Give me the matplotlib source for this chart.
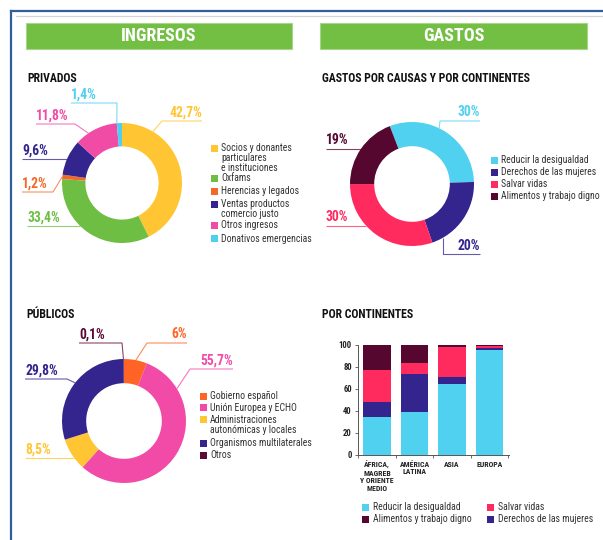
import numpy as np
import matplotlib
matplotlib.use('Agg')
import matplotlib.pyplot as plt
from matplotlib.patches import Rectangle

# Fonts: narrow faces for the condensed look of the original
COND = ['Roboto Condensed', 'Liberation Sans Narrow', 'Roboto', 'DejaVu Sans']
plt.rcParams['font.family'] = COND

# ---- data ----
priv_labels = ['Socios y donantes\nparticulares\ne instituciones', 'Oxfams', 'Herencias y legados',
               'Ventas productos\ncomercio justo', 'Otros ingresos', 'Donativos emergencias']
priv_values = [42.7, 33.4, 1.2, 9.6, 11.8, 1.4]
priv_colors = ['#FFC533', '#6EBE44', '#F26A2A', '#33248E', '#F04BA5', '#4FCFEF']

pub_labels = ['Gobierno español', 'Unión Europea y ECHO', 'Administraciones\nautonómicas y locales',
              'Organismos multilaterales', 'Otros']
pub_values = [6, 55.7, 8.5, 29.8, 0.1]
pub_colors = ['#FF6326', '#F24BA7', '#FFC533', '#33248E', '#5C0B35']

causes = ['Reducir la desigualdad', 'Derechos de las mujeres', 'Salvar vidas', 'Alimentos y trabajo digno']
cause_values = [30, 20, 30, 19]
cause_colors = ['#4FD1EF', '#33248E', '#FF2B5E', '#56072F']

continents = ['ÁFRICA,\nMAGREB\nY ORIENTE\nMEDIO', 'AMÉRICA\nLATINA', 'ASIA', 'EUROPA']
cont_reducir = [35, 39, 65, 95.5]
cont_derechos = [13, 35, 6, 1.5]
cont_salvar = [29, 10, 27.5, 1.8]
cont_alimentos = [23, 16, 1.5, 1.2]

W, H = 603, 540
fig = plt.figure(figsize=(W / 100, H / 100), dpi=100)
ax = fig.add_axes([0, 0, 1, 1])


def Y(y):
    # pixel rows counted from the top
    return H - y


def pct(v):
    return f'{v:g}'.replace('.', ',') + '%'


def donut(cx, cy, R, values, colors, start, callouts):
    ax.pie(values, colors=colors, startangle=start, counterclock=False, radius=R,
           center=(cx, Y(cy)), wedgeprops=dict(width=R * 0.39, linewidth=0))
    for v, c, (ang, elbow, x_end) in zip(values, colors, callouts):
        a = np.deg2rad(ang)
        x0, y0 = cx + R * np.cos(a), cy - R * np.sin(a)
        if elbow is None:
            elbow = (x0, y0)
        ex, ey = elbow
        ax.plot([x0, ex, x_end], [Y(y0), Y(ey), Y(ey)], color=c, lw=0.8, alpha=0.75,
                solid_capstyle='butt')
        ha = 'right' if x_end > ex else 'left'
        ax.text(x_end, Y(ey) + 1.5, pct(v), ha=ha, va='bottom', color=c,
                fontsize=9.8, fontweight='bold')


def legend(x, y, labels, colors, step, gap, size=7):
    for lab, c in zip(labels, colors):
        ax.add_patch(Rectangle((x, Y(y) - 3.5), 7, 7, color=c, lw=0))
        ax.text(x + 10, Y(y) + 5, lab, ha='left', va='top', fontsize=size,
                color='#333333', linespacing=1.0)
        y += lab.count('\n') * step + step + gap


# frame
ax.plot([10.5, 10.5], [Y(10.5), 0], color='#2F5E9E', lw=1.6)
ax.plot([10.5, W], [Y(10.5), Y(10.5)], color='#2F5E9E', lw=1.6)
ax.plot([16, W], [Y(15.5), Y(15.5)], color='#D3D3D3', lw=0.9)

# green headers
for x0, x1, title in [(26, 292, 'INGRESOS'), (320, 587, 'GASTOS')]:
    ax.add_patch(Rectangle((x0, Y(49)), x1 - x0, 26, facecolor='#72BF44',
                           edgecolor='#A5D68A', lw=0.8))
    ax.text((x0 + x1) / 2, Y(36), title, ha='center', va='center', color='white',
            fontsize=13, fontweight='bold')

# section titles
for x, y, t in [(27, 78, 'PRIVADOS'), (322, 78, 'GASTOS POR CAUSAS Y POR CONTINENTES'),
                (26, 315, 'PÚBLICOS'), (322, 315, 'POR CONTINENTES')]:
    ax.text(x, Y(y), t, ha='left', va='center', fontsize=8.5, fontweight='bold', color='#111111')

# donuts: (anchor angle, elbow, end of leader line)
donut(122, 183, 60, priv_values, priv_colors, 90,
      [(59, (162, 121), 202), (225.8, None, 27), (174, (53, 192), 22),
       (156, None, 22), (124, (75, 124), 36), (95, (117, 103), 71)])
legend(211, 148, priv_labels, priv_colors, 8.5, 4.5)

donut(412, 184, 62, cause_values, cause_colors, 111,
      [(64, (440, 121), 480), (-60, (443, 254), 480), (222.6, None, 326), (145.6, None, 326)])
legend(491, 160, causes, cause_colors, 12, 0)

donut(124, 421, 62, pub_values, pub_colors, 90,
      [(79, (147, 343), 187), (31.4, (190, 369), 233), (216.7, None, 25),
       (142, (67, 379), 25), (90.5, (122, 343), 79)])
legend(200, 396, pub_labels, pub_colors, 11.8, 0)

ax.set_xlim(0, W)
ax.set_ylim(0, H)
ax.set_aspect('auto')
ax.axis('off')

# stacked bars by continent
bx = fig.add_axes([358 / W, (H - 455) / H, (509 - 358) / W, 110 / H])
xs = np.arange(len(continents))
bottom = np.zeros(len(continents))
for vals, c in zip([cont_reducir, cont_derechos, cont_salvar, cont_alimentos], cause_colors):
    bx.bar(xs, vals, bottom=bottom, width=0.74, color=c, lw=0)
    bottom += np.array(vals)
bx.set_xlim(-0.51, 3.52)
bx.set_ylim(0, 100)
bx.set_yticks(range(0, 101, 20))
bx.set_yticklabels([str(v) for v in range(0, 101, 20)], fontsize=6.2, fontweight='bold', color='#222222')
bx.set_xticks(xs)
bx.set_xticklabels(continents, fontsize=5.6, fontweight='bold', color='#222222', linespacing=1.15)
bx.set_xticks([-0.5, 0.5, 1.5, 2.5, 3.5], minor=True)
bx.tick_params(axis='x', which='major', length=0, pad=4)
bx.tick_params(axis='x', which='minor', length=2.5, color='#555555', width=0.6)
bx.tick_params(axis='y', length=2.5, color='#555555', width=0.6, pad=2)
for s in ['top', 'right']:
    bx.spines[s].set_visible(False)
for s in ['left', 'bottom']:
    bx.spines[s].set_color('#555555')
    bx.spines[s].set_linewidth(0.7)

# bar legend, two columns
leg_order = [0, 2, 3, 1]
leg_pos = [(362, 507), (487, 507), (362, 519), (487, 519)]
for i, (lx, ly) in zip(leg_order, leg_pos):
    ax.add_patch(Rectangle((lx, Y(ly) - 3.5), 7, 7, color=cause_colors[i], lw=0))
    ax.text(lx + 11, Y(ly), causes[i], ha='left', va='center', fontsize=7, color='#333333')

fig.savefig('out.png', dpi=100)
